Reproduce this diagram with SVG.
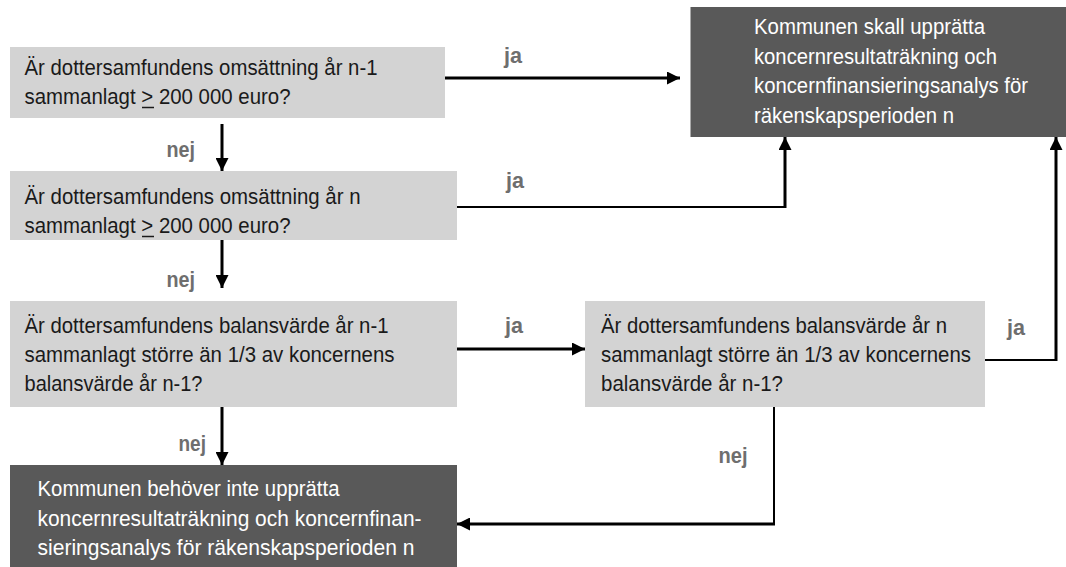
<svg xmlns="http://www.w3.org/2000/svg" width="1066" height="567" viewBox="0 0 1066 567">
<style>
.q{fill:#d3d3d3}
.r{fill:#595959}
.t{font-family:"Liberation Sans",Arial,sans-serif;font-size:22px;fill:#1a1a1a}
.w{font-family:"Liberation Sans",Arial,sans-serif;font-size:22px;fill:#ffffff}
.lb{font-family:"Liberation Sans",Arial,sans-serif;font-size:22px;font-weight:bold;fill:#6e6e6e}
.c{fill:none;stroke:#000;stroke-width:3}
.c2{fill:none;stroke:#000;stroke-width:2}
.ul{stroke:#1a1a1a;stroke-width:1.5}
</style>
<defs>
<marker id="ah" viewBox="0 0 13 13" markerWidth="13" markerHeight="13" markerUnits="userSpaceOnUse" refX="13" refY="6.5" orient="auto">
<path d="M0,0 L13,6.5 L0,13 z" fill="#000"/>
</marker>
</defs>
<rect width="1066" height="567" fill="#fff"/>
<g id="n1">
<rect class="q" x="10" y="47" width="435" height="71"/>
<text class="t" x="24.5" y="75" textLength="353" lengthAdjust="spacingAndGlyphs">Är dottersamfundens omsättning år n-1</text>
<text class="t" x="24.5" y="104" textLength="266" lengthAdjust="spacingAndGlyphs">sammanlagt &gt; 200 000 euro?</text>
<line class="ul" x1="142" y1="107.5" x2="154" y2="107.5"/>
</g>
<g id="n2">
<rect class="q" x="10" y="171" width="447" height="69"/>
<text class="t" x="24.5" y="204" textLength="336" lengthAdjust="spacingAndGlyphs">Är dottersamfundens omsättning år n</text>
<text class="t" x="24.5" y="233" textLength="266" lengthAdjust="spacingAndGlyphs">sammanlagt &gt; 200 000 euro?</text>
<line class="ul" x1="142" y1="236.5" x2="154" y2="236.5"/>
</g>
<g id="n3">
<rect class="q" x="10" y="301" width="447" height="106"/>
<text class="t" x="24.5" y="333" textLength="364" lengthAdjust="spacingAndGlyphs">Är dottersamfundens balansvärde år n-1</text>
<text class="t" x="24.5" y="362" textLength="370" lengthAdjust="spacingAndGlyphs">sammanlagt större än 1/3 av koncernens</text>
<text class="t" x="24.5" y="391" textLength="178" lengthAdjust="spacingAndGlyphs">balansvärde år n-1?</text>
</g>
<g id="n4">
<rect class="r" x="10" y="465" width="447" height="102"/>
<text class="w" x="37.5" y="496" textLength="302" lengthAdjust="spacingAndGlyphs">Kommunen behöver inte upprätta</text>
<text class="w" x="37.5" y="526" textLength="384" lengthAdjust="spacingAndGlyphs">koncernresultaträkning och koncernfinan-</text>
<text class="w" x="37.5" y="555" textLength="377" lengthAdjust="spacingAndGlyphs">sieringsanalys för räkenskapsperioden n</text>
</g>
<g id="n5">
<rect class="q" x="585" y="301" width="400" height="106"/>
<text class="t" x="601" y="333" textLength="346" lengthAdjust="spacingAndGlyphs">Är dottersamfundens balansvärde år n</text>
<text class="t" x="601" y="362" textLength="370" lengthAdjust="spacingAndGlyphs">sammanlagt större än 1/3 av koncernens</text>
<text class="t" x="601" y="391" textLength="182" lengthAdjust="spacingAndGlyphs">balansvärde år n-1?</text>
</g>
<g id="n6">
<rect class="r" x="690.5" y="7" width="375.5" height="130"/>
<text class="w" x="754" y="34" textLength="231" lengthAdjust="spacingAndGlyphs">Kommunen skall upprätta</text>
<text class="w" x="754" y="64" textLength="243" lengthAdjust="spacingAndGlyphs">koncernresultaträkning och</text>
<text class="w" x="754" y="93" textLength="274" lengthAdjust="spacingAndGlyphs">koncernfinansieringsanalys för</text>
<text class="w" x="754" y="123" textLength="200" lengthAdjust="spacingAndGlyphs">räkenskapsperioden n</text>
</g>
<g id="connectors">
<path class="c" d="M445,78 H680" marker-end="url(#ah)"/>
<path class="c" d="M222,124 V171" marker-end="url(#ah)"/>
<path class="c2" d="M457,207 H786"/>
<path class="c" d="M785,208 V137" marker-end="url(#ah)"/>
<path class="c" d="M222,240 V288" marker-end="url(#ah)"/>
<path class="c" d="M457,349 H585" marker-end="url(#ah)"/>
<path class="c2" d="M985,360 H1057"/>
<path class="c" d="M1056,361 V137" marker-end="url(#ah)"/>
<path class="c" d="M222,407 V465" marker-end="url(#ah)"/>
<path class="c2" d="M774,407 V525"/>
<path class="c" d="M775,524 H457" marker-end="url(#ah)"/>
</g>
<g id="labels">
<text class="lb" x="504" y="63" textLength="18" lengthAdjust="spacingAndGlyphs">ja</text>
<text class="lb" x="506" y="188" textLength="18" lengthAdjust="spacingAndGlyphs">ja</text>
<text class="lb" x="505" y="333" textLength="18" lengthAdjust="spacingAndGlyphs">ja</text>
<text class="lb" x="1007" y="335" textLength="18" lengthAdjust="spacingAndGlyphs">ja</text>
<text class="lb" x="166.5" y="157" textLength="28.5" lengthAdjust="spacingAndGlyphs">nej</text>
<text class="lb" x="166.5" y="287" textLength="28.5" lengthAdjust="spacingAndGlyphs">nej</text>
<text class="lb" x="178.5" y="451" textLength="27.5" lengthAdjust="spacingAndGlyphs">nej</text>
<text class="lb" x="718.5" y="463" textLength="29" lengthAdjust="spacingAndGlyphs">nej</text>
</g>
</svg>
